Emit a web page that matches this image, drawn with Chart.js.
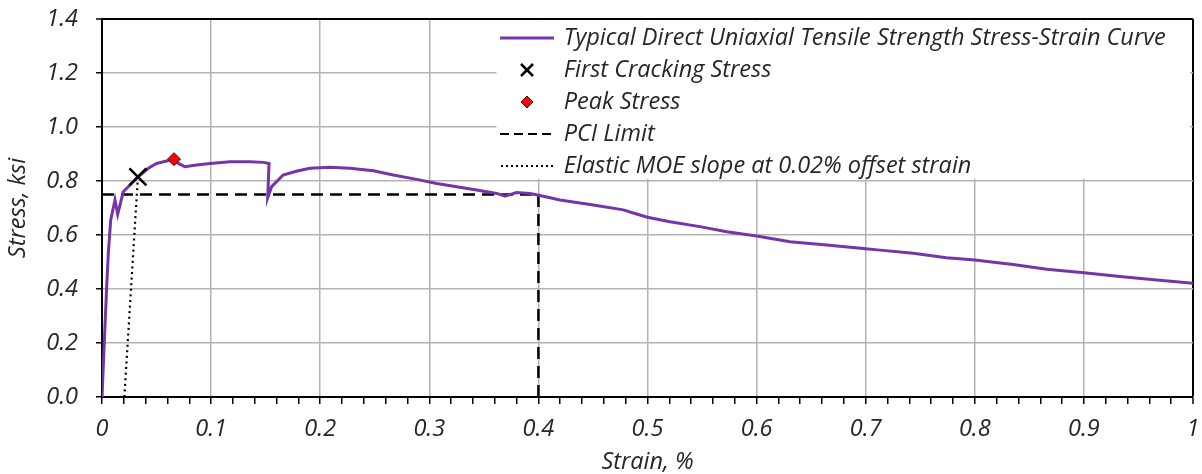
<!DOCTYPE html>
<html>
<head>
<meta charset="utf-8">
<script src="https://cdn.jsdelivr.net/npm/chart.js@4/dist/chart.umd.min.js"></script>
<style>
  html, body { margin:0; padding:0; background:#fff; }
  #wrap { width:1202px; height:474px; }
</style>
</head>
<body>
<div id="wrap"><canvas id="chart" width="1202" height="474"></canvas></div>
<script>
// Stress-strain curve (strain %, stress ksi)
const strain = [0, 0.0043, 0.0058, 0.008, 0.0119, 0.0144, 0.0195, 0.0257, 0.0327, 0.0425, 0.050, 0.0593, 0.0663,
  0.070, 0.076, 0.0868, 0.099, 0.1173, 0.1357, 0.1479, 0.1531, 0.1519, 0.1555, 0.166, 0.178, 0.1906, 0.209,
  0.2273, 0.2487, 0.267, 0.2884, 0.3068, 0.3251, 0.3434, 0.3618, 0.3694, 0.380, 0.3923, 0.4015, 0.4198,
  0.4503, 0.4778, 0.490, 0.5, 0.5206, 0.548, 0.5726, 0.600, 0.6306, 0.6642, 0.700, 0.7131, 0.7436, 0.774,
  0.8, 0.835, 0.866, 0.9, 0.933, 0.9667, 1.0];
const stress = [0, 0.41, 0.533, 0.656, 0.730, 0.677, 0.760, 0.785, 0.814, 0.847, 0.865, 0.874, 0.881,
  0.865, 0.853, 0.859, 0.865, 0.871, 0.871, 0.869, 0.865, 0.738, 0.779, 0.822, 0.836, 0.847, 0.851,
  0.847, 0.838, 0.822, 0.806, 0.791, 0.779, 0.767, 0.754, 0.744, 0.757, 0.754, 0.746, 0.730,
  0.711, 0.693, 0.678, 0.666, 0.649, 0.631, 0.612, 0.596, 0.575, 0.563, 0.549, 0.544, 0.532, 0.516,
  0.507, 0.491, 0.473, 0.460, 0.446, 0.433, 0.421];

const firstCrack = [0.0329, 0.815];   // strain, stress
const peakStress = [0.066, 0.881];
const pciStrain = [0, 0.4, 0.4];
const pciStress = [0.75, 0.75, 0];
const moeStrain = [0.0205, 0.0329];
const moeStress = [0, 0.815];

const seriesNames = [
  'Typical Direct Uniaxial Tensile Strength Stress-Strain Curve',
  'First Cracking Stress',
  'Peak Stress',
  'PCI Limit',
  'Elastic MOE slope at 0.02% offset strain'
];

const PURPLE = '#7535AA';
const FONT = '"Open Sans", Lato, sans-serif';
const FS = 23.5;
const TEXT = '#262626';

function pts(xs, ys){ return xs.map((x,i)=>({x, y: ys[i]})); }

// small canvases used as legend markers
function icon(w, h, draw){
  const c = document.createElement('canvas');
  c.width = w; c.height = h;
  draw(c.getContext('2d'));
  return c;
}
const legendIcons = [
  icon(54, 6, g=>{ g.strokeStyle = PURPLE; g.lineWidth = 3; g.beginPath(); g.moveTo(0,3); g.lineTo(54,3); g.stroke(); }),
  icon(16, 16, g=>{ g.strokeStyle = '#000'; g.lineWidth = 2.5; g.beginPath(); g.moveTo(2,2); g.lineTo(14,14); g.moveTo(14,2); g.lineTo(2,14); g.stroke(); }),
  icon(14, 14, g=>{ g.fillStyle = '#ff0000'; g.strokeStyle = '#222'; g.lineWidth = 1; g.beginPath(); g.moveTo(7,1); g.lineTo(13,7); g.lineTo(7,13); g.lineTo(1,7); g.closePath(); g.fill(); g.stroke(); }),
  icon(54, 4, g=>{ g.strokeStyle = '#000'; g.lineWidth = 2; g.setLineDash([9,5]); g.beginPath(); g.moveTo(0,2); g.lineTo(54,2); g.stroke(); }),
  icon(54, 4, g=>{ g.strokeStyle = '#000'; g.lineWidth = 2; g.setLineDash([2,3]); g.beginPath(); g.moveTo(1,2); g.lineTo(54,2); g.stroke(); })
];

const isTenth = v => Math.abs(Math.round(v*100)) % 10 === 0;

// move the legend into the upper right of the plot and give it a white backing
const legendPlace = {
  id: 'legendPlace',
  afterLayout(chart){
    const lg = chart.legend, ca = chart.chartArea;
    const w = lg.width;
    lg.left = ca.left + 391.5; lg.right = lg.left + w;
    lg.top = ca.top - 1.25;
  },
  beforeDatasetsDraw(chart){
    const lg = chart.legend, ca = chart.chartArea, g = chart.ctx;
    const o = lg.options.labels;
    const fs = o.font.size, pad = o.padding;
    const lastMid = lg.top + pad + 4*(fs+pad) + fs/2;
    g.save();
    g.fillStyle = '#fff';
    g.fillRect(lg.left + 3, ca.top + 1.5, ca.right - lg.left - 6, Math.min(lastMid + 15, ca.top + 160) - ca.top - 1.5);
    g.restore();
    lg.draw(ca);
  }
};

const ctx = document.getElementById('chart').getContext('2d');
new Chart(ctx, {
  type: 'scatter',
  data: {
    datasets: [
      { label: seriesNames[0], data: pts(strain, stress), showLine: true, borderColor: PURPLE, borderWidth: 3,
        pointRadius: 0, tension: 0, order: 1 },
      { label: seriesNames[1], data: [{x: firstCrack[0], y: firstCrack[1]}], pointStyle: 'crossRot', pointRadius: 12,
        borderColor: '#000', borderWidth: 2.5, order: 0 },
      { label: seriesNames[2], data: [{x: peakStress[0], y: peakStress[1]}], pointStyle: 'rectRot', pointRadius: 6.5,
        backgroundColor: '#ff0000', borderColor: '#222', borderWidth: 1, order: 0 },
      { label: seriesNames[3], data: pts(pciStrain, pciStress), showLine: true, borderColor: '#000', borderWidth: 2.5,
        borderDash: [12, 7], pointRadius: 0, order: 2 },
      { label: seriesNames[4], data: pts(moeStrain, moeStress), showLine: true, borderColor: '#000', borderWidth: 2.2,
        borderDash: [2, 3.6], pointRadius: 0, order: 2 }
    ]
  },
  options: {
    responsive: false,
    animation: false,
    layout: { autoPadding: false, padding: { top: 19, right: 9, left: 0, bottom: 0 } },
    plugins: {
      tooltip: { enabled: false },
      legend: {
        position: 'chartArea',
        align: 'start',
        labels: {
          usePointStyle: true,
          pointStyleWidth: 50,
          padding: 8.5,
          color: TEXT,
          font: { family: FONT, size: FS, style: 'italic' },
          generateLabels: (chart) => chart.data.datasets.map((ds, i) => ({
            text: ds.label, pointStyle: legendIcons[i], datasetIndex: i,
            fontColor: TEXT, lineWidth: 0, hidden: false
          }))
        }
      }
    },
    scales: {
      x: {
        type: 'linear', min: 0, max: 1,
        afterFit: s => { s.height = 77; s.paddingLeft = 0; s.paddingRight = 0; },
        ticks: {
          stepSize: 0.02, autoSkip: false, maxRotation: 0, padding: 11,
          color: TEXT, font: { family: FONT, size: FS, style: 'italic' },
          callback: v => {
            const k = Math.round(v*100);
            if (k % 10 !== 0) return '';
            return k === 0 ? '0' : k === 100 ? '1' : (k/100).toString();
          }
        },
        grid: {
          color: c => { const v = c.tick ? c.tick.value : 0; if (Math.abs(v-1) < 1e-6) return '#000'; return isTenth(v) ? '#b3b3b3' : 'rgba(0,0,0,0)'; },
          lineWidth: c => (c.tick && Math.abs(c.tick.value-1) < 1e-6) ? 2 : 1.5,
          tickColor: '#000', tickWidth: 1.5, tickLength: 7
        },
        border: { display: true, color: '#000', width: 2 },
        title: { display: true, text: 'Strain, %', color: TEXT, padding: { top: 0, bottom: -2 },
          font: { family: FONT, size: FS, style: 'italic' } }
      },
      y: {
        type: 'linear', min: 0, max: 1.4,
        afterFit: s => { s.width = 102; s.paddingTop = 0; s.paddingBottom = 0; },
        ticks: {
          stepSize: 0.2, padding: 18, color: TEXT,
          font: { family: FONT, size: FS, style: 'italic' },
          callback: v => v.toFixed(1)
        },
        grid: {
          color: c => (c.tick && Math.abs(c.tick.value-1.4) < 1e-6) ? '#000' : '#b3b3b3',
          lineWidth: c => (c.tick && Math.abs(c.tick.value-1.4) < 1e-6) ? 2 : 1.5,
          tickColor: '#000', tickWidth: 1.5, tickLength: 6
        },
        border: { display: true, color: '#000', width: 2 },
        title: { display: true, text: 'Stress, ksi', color: TEXT, padding: { top: 4, bottom: 0 },
          font: { family: FONT, size: FS, style: 'italic' } }
      }
    }
  },
  plugins: [legendPlace]
});
</script>
</body>
</html>
